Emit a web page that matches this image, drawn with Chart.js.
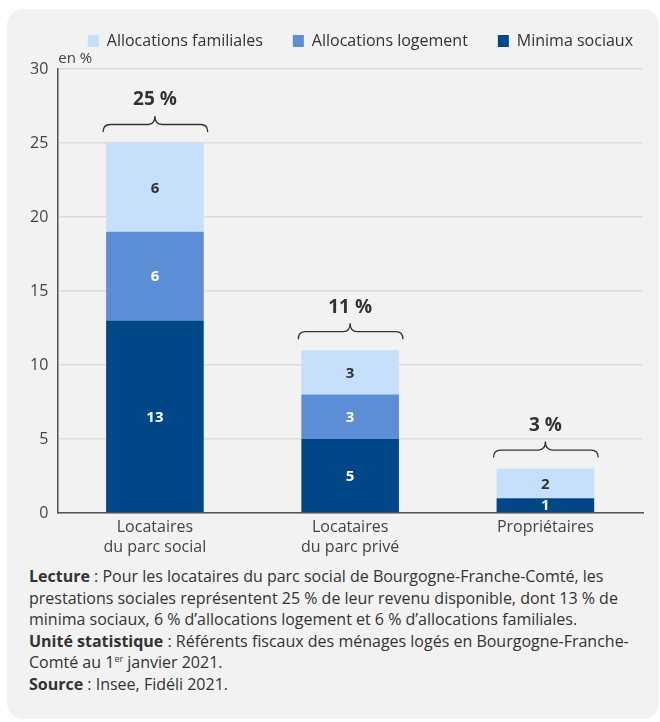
<!DOCTYPE html>
<html>
<head>
<meta charset="utf-8">
<script src="https://cdn.jsdelivr.net/npm/chart.js@4"></script>
<style>
  body { margin: 0; background: #fff; font-family: "Open Sans", sans-serif; }
  #card { position: absolute; left: 7px; top: 9px; width: 652px; height: 710px; background: #f2f2f2; border-radius: 16px; }
  #wrap { position: absolute; left: 0; top: 0; width: 660px; height: 563px; }
  #notes { position: absolute; left: 29px; top: 566px; font-size: 16px; line-height: 21.6px; color: #333; white-space: nowrap; }
  #notes b { font-weight: 700; }
  sup { font-size: 9px; line-height: 0; }
</style>
</head>
<body>
<div id="card"></div>
<div id="wrap"><canvas id="chart"></canvas></div>
<div id="notes">
  <b>Lecture</b> : Pour les locataires du parc social de Bourgogne-Franche-Comté, les<br>
  prestations sociales représentent 25 % de leur revenu disponible, dont 13 % de<br>
  minima sociaux, 6 % d’allocations logement et 6 % d’allocations familiales.<br>
  <b>Unité statistique</b> : Référents fiscaux des ménages logés en Bourgogne-Franche-<br>
  Comté au 1<sup>er</sup> janvier 2021.<br>
  <b>Source</b> : Insee, Fidéli 2021.
</div>
<script>
// --- données ---
const categories = [['Locataires', 'du parc social'], ['Locataires', 'du parc privé'], 'Propriétaires'];
const minimaSociaux = [13, 5, 1];
const allocLogement = [6, 3, 0];
const allocFamiliales = [6, 3, 2];
const totals = [25, 11, 3];
const yTicks = [0, 5, 10, 15, 20, 25, 30];

const FONT = '"Open Sans", sans-serif';

// étiquettes dans les segments
const segmentLabels = {
  id: 'segmentLabels',
  afterDatasetsDraw(chart) {
    const ctx = chart.ctx;
    ctx.save();
    ctx.font = 'bold 15px ' + FONT;
    ctx.textAlign = 'center';
    ctx.textBaseline = 'middle';
    chart.data.datasets.forEach((ds, i) => {
      const meta = chart.getDatasetMeta(i);
      meta.data.forEach((bar, j) => {
        const v = ds.data[j];
        if (!v) return;
        ctx.fillStyle = ds.labelColor;
        ctx.fillText(String(v), bar.x, (bar.y + bar.base) / 2 + 1);
      });
    });
    ctx.restore();
  }
};

// accolades + total au-dessus des barres
const braces = {
  id: 'braces',
  afterDatasetsDraw(chart) {
    const ctx = chart.ctx;
    const y = chart.scales.y;
    const meta = chart.getDatasetMeta(0);
    ctx.save();
    meta.data.forEach((bar, j) => {
      const top = y.getPixelForValue(totals[j]);
      const x0 = bar.x - bar.width / 2 - 3;
      const x1 = bar.x + bar.width / 2 + 4;
      const xm = bar.x;
      const yb = top - 11;
      const yh = top - 18.5;
      const yt = top - 27;
      const r = 7;
      ctx.strokeStyle = '#333';
      ctx.lineWidth = 1.3;
      ctx.beginPath();
      ctx.moveTo(x0, yb);
      ctx.quadraticCurveTo(x0, yh, x0 + r, yh);
      ctx.lineTo(xm - r, yh);
      ctx.quadraticCurveTo(xm, yh, xm, yt);
      ctx.quadraticCurveTo(xm, yh, xm + r, yh);
      ctx.lineTo(x1 - r, yh);
      ctx.quadraticCurveTo(x1, yh, x1, yb);
      ctx.stroke();
      ctx.fillStyle = '#333';
      ctx.font = 'bold 19px ' + FONT;
      ctx.textAlign = 'center';
      ctx.textBaseline = 'middle';
      ctx.fillText(totals[j] + ' %', xm, top - 43);
    });
    // unité
    ctx.font = '15px ' + FONT;
    ctx.fillStyle = '#444';
    ctx.textAlign = 'left';
    ctx.textBaseline = 'middle';
    ctx.fillText('en %', chart.chartArea.left + 1, chart.chartArea.top - 10);
    ctx.restore();
  }
};

// espace sous la légende, et légende calée à droite
const legendSpace = {
  id: 'legendSpace',
  beforeInit(chart) {
    const fit = chart.legend.fit;
    chart.legend.fit = function() {
      fit.bind(chart.legend)();
      this.height += 10;
    };
  },
  afterLayout(chart) {
    chart.legend.right += 20;
  }
};

new Chart(document.getElementById('chart'), {
  type: 'bar',
  data: {
    labels: categories,
    datasets: [
      { label: 'Minima sociaux', data: minimaSociaux, backgroundColor: '#004787', labelColor: '#fff' },
      { label: 'Allocations logement', data: allocLogement, backgroundColor: '#5b8ed5', labelColor: '#fff' },
      { label: 'Allocations familiales', data: allocFamiliales, backgroundColor: '#c6e0fb', labelColor: '#333' }
    ]
  },
  options: {
    responsive: true,
    maintainAspectRatio: false,
    animation: false,
    layout: { padding: { left: 21, right: 17, top: 3, bottom: 2 } },
    datasets: { bar: { barPercentage: 0.5, categoryPercentage: 1, borderWidth: 0 } },
    plugins: {
      tooltip: { enabled: false },
      legend: {
        position: 'top',
        align: 'end',
        reverse: true,
        labels: {
          font: { family: FONT, size: 16 },
          color: '#333',
          boxWidth: 11,
          boxHeight: 12,
          padding: 30
        }
      }
    },
    scales: {
      x: {
        stacked: true,
        grid: { display: false, drawTicks: false },
        border: { color: '#555', width: 1.5 },
        ticks: { font: { family: FONT, size: 16, lineHeight: 1.25 }, color: '#444', padding: 4, maxRotation: 0 }
      },
      y: {
        stacked: true,
        min: 0,
        max: 30,
        afterBuildTicks(axis) { axis.ticks = yTicks.map(v => ({ value: v })); },
        grid: { color: '#dcdcdc', lineWidth: 1.5, drawTicks: false },
        border: { color: '#555', width: 1.5 },
        ticks: { font: { family: FONT, size: 16 }, color: '#444', padding: 9 }
      }
    }
  },
  plugins: [segmentLabels, braces, legendSpace]
});
</script>
</body>
</html>
